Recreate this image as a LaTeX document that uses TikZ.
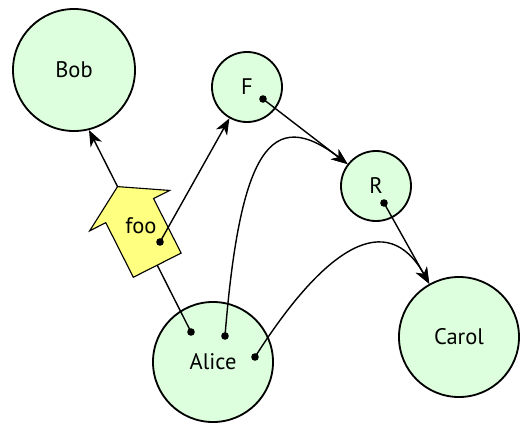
\documentclass[tikz,border=0pt]{standalone}
\usepackage{fontspec}
\setmainfont{PT Sans}
\usetikzlibrary{arrows.meta,shapes.arrows}
\definecolor{personGreen}{RGB}{221,255,221}
\definecolor{fooYellow}{RGB}{255,255,128}

\begin{document}
\begin{tikzpicture}[x=0.025cm,y=-0.025cm,
  person/.style={circle,draw,line width=1.3pt,fill=personGreen,inner sep=0pt,font=\fontsize{16}{19}\selectfont},
  link/.style={line width=1pt,-{Stealth[length=11.5pt,width=9pt,inset=3.5pt]}},
  fooarrow/.style={single arrow,draw,line width=0.8pt,fill=fooYellow,inner xsep=0pt,inner ysep=0.655cm,minimum height=2.2cm,minimum width=2.21cm,single arrow head extend=0.45cm,single arrow tip angle=118,font=\fontsize{16}{19}\selectfont}]
\useasboundingbox (0,0) rectangle (528,429);
\node[person,minimum size=3.05cm] (bob) at (74,70) {Bob};
\node[person,minimum size=1.75cm] (f) at (247,87) {F};
\node[person,minimum size=1.75cm] (r) at (376,186) {R};
\node[person,minimum size=3cm] (carol) at (459,337) {Carol};
\node[person,minimum size=3cm] (alice) at (213,362) {Alice};
\coordinate (a1) at (191,332);
\coordinate (a2) at (225,336);
\coordinate (a3) at (255,357);
\coordinate (fd) at (160,242);
\coordinate (fo) at (263,99);
\coordinate (ro) at (384,203);
\draw[link] (a1) -- node[fooarrow,sloped,allow upside down,pos=0.49] (foo) {\rotatebox{-117}{\makebox[0pt]{\smash{foo}}}} (bob.-76);
\draw[link] (fd) -- (f);
\draw[link] (fo) -- (r);
\draw[link] (ro) -- (carol);
\draw[link] (a2) .. controls (240,150) and (271,105) .. (r);
\draw[link] (a3) .. controls (325,247) and (387,208) .. (carol);
\foreach \d in {a1,a2,a3,fd,fo,ro}
  \fill (\d) circle[radius=2.7pt];
\end{tikzpicture}
\end{document}
